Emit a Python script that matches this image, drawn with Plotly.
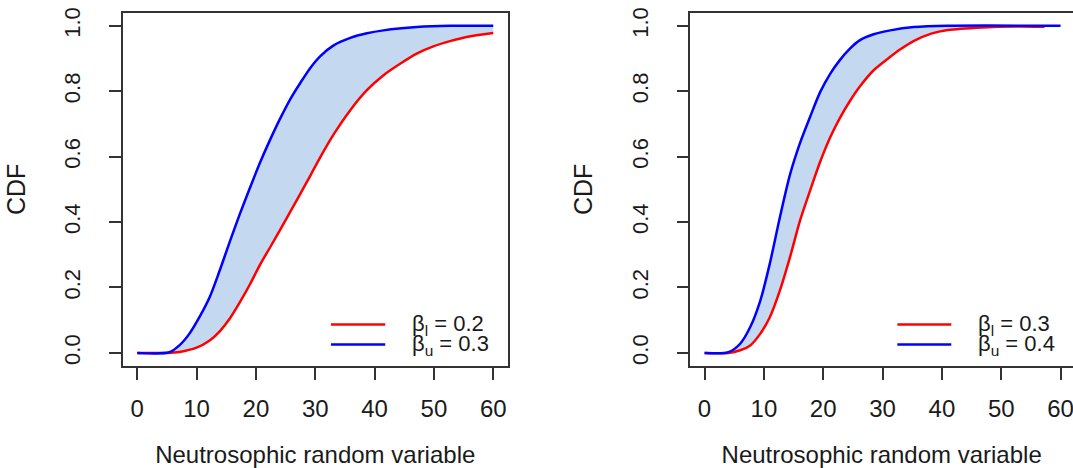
import plotly.graph_objects as go
from plotly.subplots import make_subplots

# ---------------- data ----------------
# Left panel: beta_l = 0.2 (red), beta_u = 0.3 (blue)
left_upper_x = [0, 5.4, 7.1, 8.8, 10.5, 12.2, 13.9, 15.6, 17.3, 19.0, 20.7, 22.4, 24.1,
                25.8, 27.5, 29.2, 30.9, 33.1, 35.9, 38.7, 41.5, 47.1, 52.7, 60]
left_upper_y = [0, 0.002, 0.023, 0.059, 0.11, 0.17, 0.252, 0.34, 0.425, 0.505, 0.582, 0.652,
                0.717, 0.776, 0.826, 0.872, 0.908, 0.94, 0.963, 0.977, 0.986, 0.996, 1.0, 1.0]
left_lower_x = [0, 4.95, 7.1, 10.0, 12.2, 13.9, 15.6, 17.3, 19.0, 20.7, 22.4, 24.1, 25.8,
                27.5, 29.2, 30.9, 33.1, 35.9, 38.7, 41.5, 44.3, 47.1, 49.9, 52.7, 55.5, 60]
left_lower_y = [0, 0, 0.003, 0.016, 0.038, 0.066, 0.105, 0.155, 0.21, 0.27, 0.323, 0.377,
                0.432, 0.487, 0.543, 0.6, 0.668, 0.742, 0.803, 0.849, 0.884, 0.915, 0.937,
                0.953, 0.966, 0.978]

# Right panel: beta_l = 0.3 (red), beta_u = 0.4 (blue)
right_upper_x = [0, 4.0, 6.0, 7.7, 9.4, 11.0, 12.7, 14.4, 16.1, 17.8, 19.5, 21.2, 22.8,
                 24.5, 26.2, 28.5, 31.3, 35.3, 41.0, 60]
right_upper_y = [0, 0.002, 0.028, 0.079, 0.16, 0.273, 0.415, 0.545, 0.642, 0.722, 0.798,
                 0.854, 0.895, 0.93, 0.956, 0.974, 0.986, 0.996, 1.0, 1.0]
right_lower_x = [0, 4.0, 6.0, 7.7, 9.4, 11.0, 12.7, 14.4, 16.1, 17.8, 19.5, 21.2, 22.8,
                 24.5, 26.2, 28.5, 31.3, 33.0, 35.3, 38.2, 41.0, 46.8, 52.5, 57.3]
right_lower_y = [0, 0, 0.008, 0.023, 0.059, 0.109, 0.191, 0.293, 0.405, 0.497, 0.585, 0.66,
                 0.718, 0.77, 0.815, 0.864, 0.905, 0.928, 0.954, 0.976, 0.987, 0.995, 0.998,
                 0.997]

x_ticks = [0, 10, 20, 30, 40, 50, 60]
y_ticks = [0.0, 0.2, 0.4, 0.6, 0.8, 1.0]
legend_left = ["β<sub>l</sub> = 0.2", "β<sub>u</sub> = 0.3"]
legend_right = ["β<sub>l</sub> = 0.3", "β<sub>u</sub> = 0.4"]
x_title = "Neutrosophic random variable"
y_title = "CDF"

# ---------------- styling ----------------
RED = "#FF0000"
BLUE = "#0000FF"
FILL = "#C4D9EF"
FRAME = "#333333"
TXT = "#1a1a1a"
FONT = "Liberation Sans, Arial, sans-serif"

W, H = 1073, 468

fig = make_subplots(rows=1, cols=2)

panels = [
    (1, left_lower_x, left_lower_y, left_upper_x, left_upper_y, legend_left),
    (2, right_lower_x, right_lower_y, right_upper_x, right_upper_y, legend_right),
]
for col, lx, ly, ux, uy, leg in panels:
    fig.add_trace(go.Scatter(x=lx, y=ly, mode="lines",
                             line=dict(color=RED, width=2.5, shape="spline", smoothing=0.8),
                             name=leg[0], showlegend=False, hoverinfo="skip"), row=1, col=col)
    fig.add_trace(go.Scatter(x=ux, y=uy, mode="lines",
                             line=dict(color=BLUE, width=2.5, shape="spline", smoothing=0.8),
                             fill="tonexty", fillcolor=FILL,
                             name=leg[1], showlegend=False, hoverinfo="skip"), row=1, col=col)

# plot-box geometry (pixels in the 1073x468 image)
left_box = (123.0, 507.5)
right_box = (690.3, 1073.0)
box_top, box_bot = 12.7, 366.0
px_per_unit = (left_box[1] - left_box[0]) / 64.8

ydom = [1 - box_bot / H, 1 - box_top / H]
axis_common = dict(showline=True, linecolor=FRAME, linewidth=1.5, ticks="outside",
                   ticklen=12, tickwidth=1.5, tickcolor=FRAME, showgrid=False,
                   zeroline=False, automargin=False, ticklabeloverflow="allow")

fig.update_xaxes(**axis_common, tickvals=x_ticks, mirror=True,
                 tickfont=dict(size=24, color=TXT, family=FONT),
                 title=dict(text=x_title, font=dict(size=24, color=TXT, family=FONT),
                            standoff=26),
                 ticklabelstandoff=8)
fig.update_yaxes(**axis_common, tickvals=y_ticks, tickformat=".1f", tickangle=-90,
                 range=[-0.04, 1.04], domain=ydom,
                 tickfont=dict(size=22, color=TXT, family=FONT),
                 title=dict(text=y_title, font=dict(size=25, color=TXT, family=FONT),
                            standoff=28),
                 ticklabelstandoff=20)

fig.update_xaxes(domain=[left_box[0] / W, left_box[1] / W], range=[-2.4, 62.4], row=1, col=1)
fig.update_xaxes(domain=[right_box[0] / W, 1.0],
                 range=[-2.4, -2.4 + (right_box[1] - right_box[0]) / px_per_unit],
                 row=1, col=2)
fig.update_yaxes(mirror=True, row=1, col=1)
fig.update_yaxes(mirror=False, row=1, col=2)

# legends (bottom-right, no box) drawn per panel
leg_x0, leg_x1, leg_tx = 0.541, 0.682, 0.747
leg_rows = [((box_bot - 324.5) / (box_bot - box_top)), ((box_bot - 344.5) / (box_bot - box_top))]
for ax_suffix, leg in (("", legend_left), ("2", legend_right)):
    for yy, color, label in zip(leg_rows, (RED, BLUE), leg):
        fig.add_shape(type="line", xref=f"x{ax_suffix} domain", yref=f"y{ax_suffix} domain",
                      x0=leg_x0, x1=leg_x1, y0=yy, y1=yy, line=dict(color=color, width=2.5))
        fig.add_annotation(xref=f"x{ax_suffix} domain", yref=f"y{ax_suffix} domain",
                           x=leg_tx, y=yy, text=label, showarrow=False, xanchor="left",
                           yanchor="middle", font=dict(size=22, color=TXT, family=FONT))

fig.update_layout(width=W, height=H, margin=dict(l=0, r=0, t=0, b=0),
                  paper_bgcolor="white", plot_bgcolor="white", showlegend=False,
                  font=dict(family=FONT, color=TXT))

fig.write_html("out.html", config={"displayModeBar": False},
               post_script="document.body.style.margin='0';document.body.style.overflow='hidden';")
